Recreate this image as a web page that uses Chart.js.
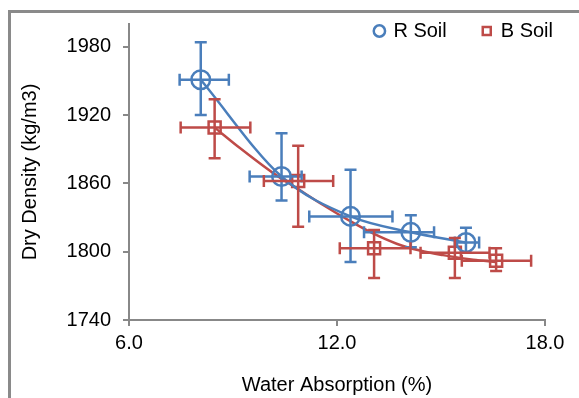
<!DOCTYPE html>
<html>
<head>
<meta charset="utf-8">
<script src="https://cdn.jsdelivr.net/npm/chart.js@4.4.0/dist/chart.umd.min.js"></script>
<style>
  html, body { margin: 0; padding: 0; background: #fff; overflow: hidden; }
  #wrap { position: relative; width: 579px; height: 398px; }
  #frame {
    position: absolute; left: 8px; top: 10px; width: 700px; height: 500px;
    border-top: 3px solid #8a8a8a; border-left: 3px solid #8a8a8a;
  }
  #densityChart { position: absolute; left: 0; top: 0; }
</style>
</head>
<body>
<div id="wrap">
  <div id="frame"></div>
  <canvas id="densityChart" width="579" height="398"></canvas>
</div>
<script>
// values
var rSoilX = [8.07, 10.40, 12.39, 14.13, 15.72];
var rSoilY = [1951, 1866, 1831, 1817, 1808];
var rSoilXMinus = [0.61, 0.92, 1.19, 1.35, 0.32];
var rSoilXPlus = [0.81, 0.58, 1.21, 0.67, 0.38];
var rSoilYMinus = [31, 21, 40, 13, 9];
var rSoilYPlus = [33, 38, 41, 15, 13];

var bSoilX = [8.47, 10.88, 13.07, 15.40, 16.59];
var bSoilY = [1909, 1862, 1803, 1799, 1792];
var bSoilXMinus = [0.98, 0.99, 0.99, 0.99, 0.99];
var bSoilXPlus = [1.03, 1.01, 1.05, 1.0, 1.01];
var bSoilYMinus = [27, 40, 26, 22, 9];
var bSoilYPlus = [25, 31, 16, 13, 11];

// the red smoothed curve does not go through every B point, read separately
var bCurveX = [8.47, 9.20, 10.16, 10.88, 11.60, 12.37, 13.04, 13.72, 14.39, 15.06, 15.93, 16.59];
var bCurveY = [1909, 1891, 1869, 1855, 1841, 1827, 1816, 1807, 1801, 1797, 1793, 1791];

var yTicks = [1740, 1800, 1860, 1920, 1980];
var xTicks = [6, 12, 18];

var blue = "#4a7ebb";
var red = "#be4b48";
var axisGrey = "#888888";

function points(xs, ys) {
  return xs.map((x, i) => ({ x: x, y: ys[i] }));
}

// error bars through the chart's own scales
const errorBars = {
  id: "errorBars",
  afterDatasetsDraw(chart) {
    const ctx = chart.ctx;
    const xs = chart.scales.x;
    const ys = chart.scales.y;
    const cap = 6;
    chart.data.datasets.forEach((ds) => {
      const e = ds.errorBars;
      if (!e) return;
      ctx.save();
      ctx.strokeStyle = ds.pointBorderColor;
      ctx.lineWidth = 2.5;
      ds.data.forEach((p, i) => {
        const cx = xs.getPixelForValue(p.x);
        const cy = ys.getPixelForValue(p.y);
        const x0 = xs.getPixelForValue(p.x - e.xMinus[i]);
        const x1 = xs.getPixelForValue(p.x + e.xPlus[i]);
        const y0 = ys.getPixelForValue(p.y - e.yMinus[i]);
        const y1 = ys.getPixelForValue(p.y + e.yPlus[i]);
        ctx.beginPath();
        ctx.moveTo(x0, cy); ctx.lineTo(x1, cy);
        ctx.moveTo(x0, cy - cap); ctx.lineTo(x0, cy + cap);
        ctx.moveTo(x1, cy - cap); ctx.lineTo(x1, cy + cap);
        ctx.moveTo(cx, y0); ctx.lineTo(cx, y1);
        ctx.moveTo(cx - cap, y0); ctx.lineTo(cx + cap, y0);
        ctx.moveTo(cx - cap, y1); ctx.lineTo(cx + cap, y1);
        ctx.stroke();
      });
      ctx.restore();
    });
  },
};

// move the legend into the top right corner of the plot, like the original
const legendNudge = {
  id: "legendNudge",
  afterLayout(chart) {
    const lg = chart.legend;
    const dy = -15 - lg.top;
    lg.top += dy;
    lg.bottom += dy;
    lg.right = chart.chartArea.right + 44;
  },
};

Chart.defaults.font.family = "'Liberation Sans', Arial, sans-serif";
Chart.defaults.font.size = 20;
Chart.defaults.color = "#000";

const ctx = document.getElementById("densityChart").getContext("2d");
const densityChart = new Chart(ctx, {
  type: "scatter",
  data: {
    datasets: [
      {
        label: "R Soil",
        data: points(rSoilX, rSoilY),
        showLine: true,
        cubicInterpolationMode: "monotone",
        borderColor: blue,
        borderWidth: 2.5,
        pointStyle: "circle",
        pointRadius: 9.3,
        pointBorderWidth: 2.5,
        pointBorderColor: blue,
        pointBackgroundColor: "rgba(255,255,255,0)",
        errorBars: {
          xMinus: rSoilXMinus,
          xPlus: rSoilXPlus,
          yMinus: rSoilYMinus,
          yPlus: rSoilYPlus,
        },
      },
      {
        label: "B Soil",
        data: points(bSoilX, bSoilY),
        showLine: false,
        borderColor: red,
        pointStyle: "rect",
        pointRadius: 8.5,
        pointBorderWidth: 2.5,
        pointBorderColor: red,
        pointBackgroundColor: "rgba(255,255,255,0)",
        errorBars: {
          xMinus: bSoilXMinus,
          xPlus: bSoilXPlus,
          yMinus: bSoilYMinus,
          yPlus: bSoilYPlus,
        },
      },
      {
        label: "B Soil curve",
        data: points(bCurveX, bCurveY),
        showLine: true,
        cubicInterpolationMode: "monotone",
        borderColor: red,
        borderWidth: 2.5,
        pointRadius: 0,
      },
    ],
  },
  options: {
    responsive: false,
    animation: false,
    layout: {
      padding: { top: -63, right: 34, left: 0, bottom: 0 },
    },
    plugins: {
      legend: {
        position: "top",
        align: "end",
        labels: {
          usePointStyle: true,
          boxWidth: 8,
          boxHeight: 8,
          padding: 36,
          font: { size: 20 },
          filter: (item) => item.datasetIndex < 2,
        },
      },
      tooltip: { enabled: false },
    },
    scales: {
      x: {
        type: "linear",
        min: 6,
        max: 18,
        afterBuildTicks: (scale) => {
          scale.ticks = xTicks.map((v) => ({ value: v }));
        },
        afterFit: (scale) => {
          scale.height = 78;
        },
        ticks: {
          padding: 5,
          callback: (v) => Number(v).toFixed(1),
        },
        grid: {
          drawOnChartArea: false,
          tickLength: 6,
          tickColor: axisGrey,
          lineWidth: 2,
        },
        border: { display: true, color: axisGrey, width: 2 },
        title: {
          display: true,
          text: "Water Absorption (%)",
          padding: { top: 1, bottom: 1 },
        },
      },
      y: {
        type: "linear",
        min: 1740,
        max: 2000,
        afterBuildTicks: (scale) => {
          scale.ticks = yTicks.map((v) => ({ value: v }));
        },
        afterFit: (scale) => {
          scale.width = 129;
        },
        ticks: {
          padding: 12,
          callback: (v) => String(v),
        },
        grid: {
          drawOnChartArea: false,
          tickLength: 6,
          tickColor: axisGrey,
          lineWidth: 2,
        },
        border: { display: true, color: axisGrey, width: 2 },
        title: {
          display: true,
          text: "Dry Density (kg/m3)",
          padding: { top: 18, bottom: 0 },
        },
      },
    },
  },
  plugins: [errorBars, legendNudge],
});
</script>
</body>
</html>
